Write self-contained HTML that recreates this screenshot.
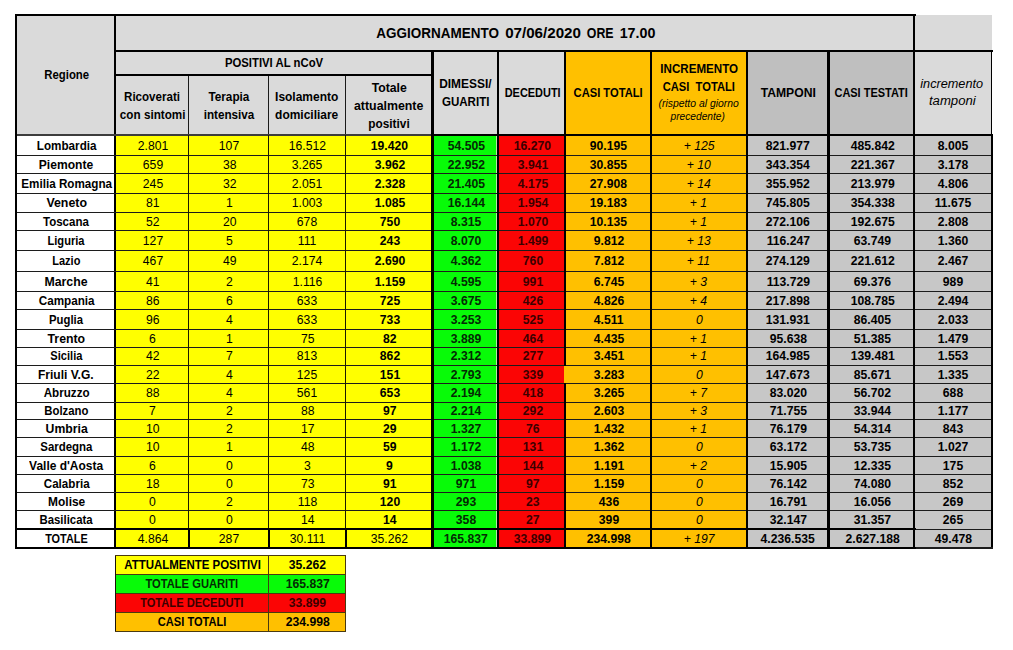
<!DOCTYPE html>
<html><head><meta charset='utf-8'><title>Aggiornamento 07/06/2020</title>
<style>
html,body{margin:0;padding:0;background:#fff;}
body{width:1013px;height:650px;position:relative;overflow:hidden;font-family:"Liberation Sans", sans-serif;}
.r,.l,.t{position:absolute;}
.t{white-space:nowrap;line-height:1;transform-origin:50% 50%;}
</style></head><body>
<div class='r' style='left:15px;top:14px;width:900.00px;height:121.00px;background:#dadada'></div>
<div class='r' style='left:915px;top:15px;width:77.40px;height:120.00px;background:#dadada'></div>
<div class='r' style='left:747px;top:51px;width:167.00px;height:84.00px;background:#bfbfbf'></div>
<div class='r' style='left:565px;top:51px;width:182.00px;height:84.00px;background:#ffc000'></div>
<div class='r' style='left:15px;top:135px;width:100.00px;height:413.60px;background:#ffffff'></div>
<div class='r' style='left:115px;top:135px;width:317.00px;height:413.60px;background:#ffff00'></div>
<div class='r' style='left:432px;top:135px;width:64.20px;height:413.60px;background:#08fb08'></div>
<div class='r' style='left:496.2px;top:135px;width:1.80px;height:413.60px;background:#b4eaa8'></div>
<div class='r' style='left:498px;top:135px;width:67.00px;height:413.60px;background:#fb0505'></div>
<div class='r' style='left:565px;top:135px;width:182.00px;height:413.60px;background:#ffc000'></div>
<div class='r' style='left:747px;top:135px;width:245.60px;height:413.60px;background:#c7c7c7'></div>
<div class='r' style='left:115.3px;top:555.9px;width:230.30px;height:18.30px;background:#ffff00'></div>
<div class='r' style='left:115.3px;top:574.2px;width:230.30px;height:19.50px;background:#08fb08'></div>
<div class='r' style='left:115.3px;top:593.7px;width:230.30px;height:18.80px;background:#fb0505'></div>
<div class='r' style='left:115.3px;top:612.5px;width:230.30px;height:18.70px;background:#ffc000'></div>
<div class='l' style='left:15px;top:14px;width:900.60px;height:2.10px;background:#000'></div>
<div class='l' style='left:15px;top:14px;width:2.10px;height:534.70px;background:#000'></div>
<div class='l' style='left:114px;top:14px;width:2.20px;height:534.70px;background:#000'></div>
<div class='l' style='left:116px;top:49.8px;width:876.60px;height:2.20px;background:#000'></div>
<div class='l' style='left:116px;top:73.8px;width:316.00px;height:2.20px;background:#000'></div>
<div class='l' style='left:188.0px;top:76px;width:1.40px;height:59.00px;background:#1a1a1a'></div>
<div class='l' style='left:267.70000000000005px;top:76px;width:1.40px;height:59.00px;background:#1a1a1a'></div>
<div class='l' style='left:345.0px;top:76px;width:1.40px;height:59.00px;background:#1a1a1a'></div>
<div class='l' style='left:17px;top:154.9px;width:975.00px;height:1.00px;background:#1c1c1c'></div>
<div class='l' style='left:17px;top:172.8px;width:975.00px;height:1.00px;background:#1c1c1c'></div>
<div class='l' style='left:17px;top:192.8px;width:975.00px;height:1.00px;background:#1c1c1c'></div>
<div class='l' style='left:17px;top:212.3px;width:975.00px;height:1.00px;background:#1c1c1c'></div>
<div class='l' style='left:17px;top:229.8px;width:975.00px;height:1.00px;background:#1c1c1c'></div>
<div class='l' style='left:17px;top:249.9px;width:975.00px;height:1.00px;background:#1c1c1c'></div>
<div class='l' style='left:17px;top:270.7px;width:975.00px;height:1.00px;background:#1c1c1c'></div>
<div class='l' style='left:17px;top:291.0px;width:975.00px;height:1.00px;background:#1c1c1c'></div>
<div class='l' style='left:17px;top:309.1px;width:975.00px;height:1.00px;background:#1c1c1c'></div>
<div class='l' style='left:17px;top:328.9px;width:975.00px;height:1.00px;background:#1c1c1c'></div>
<div class='l' style='left:17px;top:346.8px;width:975.00px;height:1.00px;background:#1c1c1c'></div>
<div class='l' style='left:17px;top:364.5px;width:975.00px;height:1.00px;background:#1c1c1c'></div>
<div class='l' style='left:17px;top:383.4px;width:975.00px;height:1.00px;background:#1c1c1c'></div>
<div class='l' style='left:17px;top:401.6px;width:975.00px;height:1.00px;background:#1c1c1c'></div>
<div class='l' style='left:17px;top:419.3px;width:975.00px;height:1.00px;background:#1c1c1c'></div>
<div class='l' style='left:17px;top:437.0px;width:975.00px;height:1.00px;background:#1c1c1c'></div>
<div class='l' style='left:17px;top:455.8px;width:975.00px;height:1.00px;background:#1c1c1c'></div>
<div class='l' style='left:17px;top:474.0px;width:975.00px;height:1.00px;background:#1c1c1c'></div>
<div class='l' style='left:17px;top:492.0px;width:975.00px;height:1.00px;background:#1c1c1c'></div>
<div class='l' style='left:17px;top:509.9px;width:975.00px;height:1.00px;background:#1c1c1c'></div>
<div class='l' style='left:17px;top:134.0px;width:415.00px;height:1.50px;background:#3c3c3c'></div>
<div class='l' style='left:431.3px;top:133.5px;width:561.40px;height:2.20px;background:#000'></div>
<div class='l' style='left:188.15px;top:135px;width:1.10px;height:394.00px;background:#1a1a00'></div>
<div class='l' style='left:188.05px;top:528.5px;width:2.00px;height:20.00px;background:#000'></div>
<div class='l' style='left:267.85px;top:135px;width:1.10px;height:394.00px;background:#1a1a00'></div>
<div class='l' style='left:267.75px;top:528.5px;width:2.00px;height:20.00px;background:#000'></div>
<div class='l' style='left:345.15px;top:135px;width:1.10px;height:394.00px;background:#1a1a00'></div>
<div class='l' style='left:345.04999999999995px;top:528.5px;width:2.00px;height:20.00px;background:#000'></div>
<div class='l' style='left:431.3px;top:50px;width:2.40px;height:498.70px;background:#000'></div>
<div class='l' style='left:496.9px;top:50px;width:2.00px;height:498.70px;background:#000'></div>
<div class='l' style='left:563.7px;top:50px;width:2.20px;height:498.70px;background:#000'></div>
<div class='l' style='left:649.9px;top:50px;width:2.40px;height:498.70px;background:#000'></div>
<div class='l' style='left:745.6px;top:50px;width:2.00px;height:498.70px;background:#000'></div>
<div class='l' style='left:827.4px;top:50px;width:2.30px;height:498.70px;background:#000'></div>
<div class='l' style='left:913.3px;top:14px;width:2.20px;height:534.70px;background:#000'></div>
<div class='l' style='left:990.9px;top:50px;width:1.60px;height:85.00px;background:#000'></div>
<div class='l' style='left:990.5px;top:134px;width:2.20px;height:414.70px;background:#000'></div>
<div class='l' style='left:563.9px;top:365.6px;width:2.40px;height:17.70px;background:#ffc000'></div>
<div class='l' style='left:15px;top:528.2px;width:900.60px;height:2.00px;background:#000'></div>
<div class='l' style='left:915.7px;top:528.7px;width:75.00px;height:1.00px;background:#1c1c1c'></div>
<div class='l' style='left:15px;top:546.5px;width:900.60px;height:2.20px;background:#000'></div>
<div class='l' style='left:915.5px;top:547.4px;width:77.00px;height:1.20px;background:#1c1c1c'></div>
<div class='l' style='left:114.8px;top:555.35px;width:231.40px;height:1.10px;background:#4a3a10'></div>
<div class='l' style='left:114.8px;top:573.6500000000001px;width:231.40px;height:1.10px;background:#4a3a10'></div>
<div class='l' style='left:114.8px;top:593.1500000000001px;width:231.40px;height:1.10px;background:#4a3a10'></div>
<div class='l' style='left:114.8px;top:611.95px;width:231.40px;height:1.10px;background:#4a3a10'></div>
<div class='l' style='left:114.8px;top:630.6500000000001px;width:231.40px;height:1.10px;background:#4a3a10'></div>
<div class='l' style='left:115.0px;top:555.9px;width:1.10px;height:75.30px;background:#1a1408'></div>
<div class='l' style='left:345.1px;top:555.9px;width:1.10px;height:75.30px;background:#4a3a10'></div>
<div class='l' style='left:267.95px;top:555.9px;width:1.10px;height:75.30px;background:#4a3a10'></div>
<span class='t' style='left:374.04px;top:26.00px;font-size:14px;font-weight:700;font-style:normal;color:#000000;transform:scaleX(0.9630);'>AGGIORNAMENTO</span>
<span class='t' style='left:508.16px;top:26.00px;font-size:14px;font-weight:700;font-style:normal;color:#000000;transform:scaleX(1.0816);'>07/06/2020</span>
<span class='t' style='left:585.03px;top:26.00px;font-size:14px;font-weight:700;font-style:normal;color:#000000;transform:scaleX(0.8832);'>ORE</span>
<span class='t' style='left:619.88px;top:26.00px;font-size:14px;font-weight:700;font-style:normal;color:#000000;transform:scaleX(1.0186);'>17.00</span>
<span class='t' style='left:42.63px;top:69.00px;font-size:12px;font-weight:700;font-style:normal;color:#000000;transform:scaleX(0.9463);'>Regione</span>
<span class='t' style='left:222.49px;top:57.00px;font-size:12px;font-weight:700;font-style:normal;color:#000000;transform:scaleX(0.9441);'>POSITIVI AL nCoV</span>
<span class='t' style='left:123.28px;top:91.00px;font-size:12px;font-weight:700;font-style:normal;color:#000000;transform:scaleX(0.9650);'>Ricoverati</span>
<span class='t' style='left:118.63px;top:109.00px;font-size:12px;font-weight:700;font-style:normal;color:#000000;transform:scaleX(0.9741);'>con sintomi</span>
<span class='t' style='left:208.30px;top:91.00px;font-size:12px;font-weight:700;font-style:normal;color:#000000;transform:scaleX(0.9809);'>Terapia</span>
<span class='t' style='left:202.98px;top:109.00px;font-size:12px;font-weight:700;font-style:normal;color:#000000;transform:scaleX(0.9744);'>intensiva</span>
<span class='t' style='left:275.02px;top:91.00px;font-size:12px;font-weight:700;font-style:normal;color:#000000;transform:scaleX(0.9975);'>Isolamento</span>
<span class='t' style='left:275.02px;top:109.00px;font-size:12px;font-weight:700;font-style:normal;color:#000000;transform:scaleX(0.9975);'>domiciliare</span>
<span class='t' style='left:371.97px;top:82.00px;font-size:12px;font-weight:700;font-style:normal;color:#000000;transform:scaleX(1.0188);'>Totale</span>
<span class='t' style='left:355.12px;top:100.00px;font-size:12px;font-weight:700;font-style:normal;color:#000000;transform:scaleX(1.0303);'>attualmente</span>
<span class='t' style='left:368.09px;top:118.00px;font-size:12px;font-weight:700;font-style:normal;color:#000000;transform:scaleX(0.9853);'>positivi</span>
<span class='t' style='left:439.46px;top:78.00px;font-size:12px;font-weight:700;font-style:normal;color:#000000;transform:scaleX(0.9945);'>DIMESSI/</span>
<span class='t' style='left:441.13px;top:96.00px;font-size:12px;font-weight:700;font-style:normal;color:#000000;transform:scaleX(0.9626);'>GUARITI</span>
<span class='t' style='left:501.83px;top:87.00px;font-size:12px;font-weight:700;font-style:normal;color:#000000;transform:scaleX(0.9113);'>DECEDUTI</span>
<span class='t' style='left:571.08px;top:87.00px;font-size:12px;font-weight:700;font-style:normal;color:#000000;transform:scaleX(0.9295);'>CASI TOTALI</span>
<span class='t' style='left:659.27px;top:63.00px;font-size:12px;font-weight:700;font-style:normal;color:#000000;transform:scaleX(0.9670);'>INCREMENTO</span>
<span class='t' style='left:660.42px;top:81.00px;font-size:12px;font-weight:700;font-style:normal;color:#000000;transform:scaleX(0.9309);'>CASI &nbsp;TOTALI</span>
<span class='t' style='left:659.67px;top:99.00px;font-size:10px;font-weight:400;font-style:italic;color:#000000;transform:scaleX(1.0393);'>(rispetto al giorno</span>
<span class='t' style='left:671.41px;top:112.00px;font-size:10px;font-weight:400;font-style:italic;color:#000000;transform:scaleX(1.0192);'>precedente)</span>
<span class='t' style='left:760.77px;top:87.00px;font-size:12px;font-weight:700;font-style:normal;color:#000000;transform:scaleX(1.0137);'>TAMPONI</span>
<span class='t' style='left:831.28px;top:87.00px;font-size:12px;font-weight:700;font-style:normal;color:#000000;transform:scaleX(0.9136);'>CASI TESTATI</span>
<span class='t' style='left:922.41px;top:78.00px;font-size:12px;font-weight:400;font-style:italic;color:#000000;transform:scaleX(1.0577);'>incremento</span>
<span class='t' style='left:930.85px;top:95.00px;font-size:12px;font-weight:400;font-style:italic;color:#000000;transform:scaleX(1.0959);'>tamponi</span>
<span class='t' style='left:35.53px;top:140.00px;font-size:12px;font-weight:700;font-style:normal;color:#000000;transform:scaleX(0.9732);'>Lombardia</span>
<span class='t' style='left:137.78px;top:140.00px;font-size:12px;font-weight:400;font-style:normal;color:#000000;transform:scaleX(1.0150);'>2.801</span>
<span class='t' style='left:219.38px;top:140.00px;font-size:12px;font-weight:400;font-style:normal;color:#000000;transform:scaleX(1.0150);'>107</span>
<span class='t' style='left:288.85px;top:140.00px;font-size:12px;font-weight:400;font-style:normal;color:#000000;transform:scaleX(1.0150);'>16.512</span>
<span class='t' style='left:371.35px;top:140.00px;font-size:12px;font-weight:700;font-style:normal;color:#000000;transform:scaleX(1.0150);'>19.420</span>
<span class='t' style='left:447.65px;top:140.00px;font-size:12px;font-weight:700;font-style:normal;color:#042a04;transform:scaleX(1.0150);'>54.505</span>
<span class='t' style='left:514.25px;top:140.00px;font-size:12px;font-weight:700;font-style:normal;color:#3c0000;transform:scaleX(1.0150);'>16.270</span>
<span class='t' style='left:590.35px;top:140.00px;font-size:12px;font-weight:700;font-style:normal;color:#000000;transform:scaleX(1.0150);'>90.195</span>
<span class='t' style='left:683.71px;top:140.00px;font-size:12px;font-weight:400;font-style:italic;color:#000000;transform:scaleX(1.0150);'>+ 125</span>
<span class='t' style='left:766.40px;top:140.00px;font-size:12px;font-weight:700;font-style:normal;color:#000000;transform:scaleX(1.0150);'>821.977</span>
<span class='t' style='left:850.50px;top:140.00px;font-size:12px;font-weight:700;font-style:normal;color:#000000;transform:scaleX(1.0150);'>485.842</span>
<span class='t' style='left:938.28px;top:140.00px;font-size:12px;font-weight:700;font-style:normal;color:#000000;transform:scaleX(1.0150);'>8.005</span>
<span class='t' style='left:39.19px;top:159.00px;font-size:12px;font-weight:700;font-style:normal;color:#000000;transform:scaleX(1.0071);'>Piemonte</span>
<span class='t' style='left:142.78px;top:159.00px;font-size:12px;font-weight:400;font-style:normal;color:#000000;transform:scaleX(1.0150);'>659</span>
<span class='t' style='left:222.72px;top:159.00px;font-size:12px;font-weight:400;font-style:normal;color:#000000;transform:scaleX(1.0150);'>38</span>
<span class='t' style='left:292.18px;top:159.00px;font-size:12px;font-weight:400;font-style:normal;color:#000000;transform:scaleX(1.0150);'>3.265</span>
<span class='t' style='left:374.68px;top:159.00px;font-size:12px;font-weight:700;font-style:normal;color:#000000;transform:scaleX(1.0150);'>3.962</span>
<span class='t' style='left:447.65px;top:159.00px;font-size:12px;font-weight:700;font-style:normal;color:#042a04;transform:scaleX(1.0150);'>22.952</span>
<span class='t' style='left:517.58px;top:159.00px;font-size:12px;font-weight:700;font-style:normal;color:#3c0000;transform:scaleX(1.0150);'>3.941</span>
<span class='t' style='left:590.35px;top:159.00px;font-size:12px;font-weight:700;font-style:normal;color:#000000;transform:scaleX(1.0150);'>30.855</span>
<span class='t' style='left:687.05px;top:159.00px;font-size:12px;font-weight:400;font-style:italic;color:#000000;transform:scaleX(1.0150);'>+ 10</span>
<span class='t' style='left:766.40px;top:159.00px;font-size:12px;font-weight:700;font-style:normal;color:#000000;transform:scaleX(1.0150);'>343.354</span>
<span class='t' style='left:850.50px;top:159.00px;font-size:12px;font-weight:700;font-style:normal;color:#000000;transform:scaleX(1.0150);'>221.367</span>
<span class='t' style='left:938.28px;top:159.00px;font-size:12px;font-weight:700;font-style:normal;color:#000000;transform:scaleX(1.0150);'>3.178</span>
<span class='t' style='left:19.52px;top:178.00px;font-size:12px;font-weight:700;font-style:normal;color:#000000;transform:scaleX(0.9726);'>Emilia Romagna</span>
<span class='t' style='left:142.78px;top:178.00px;font-size:12px;font-weight:400;font-style:normal;color:#000000;transform:scaleX(1.0150);'>245</span>
<span class='t' style='left:222.72px;top:178.00px;font-size:12px;font-weight:400;font-style:normal;color:#000000;transform:scaleX(1.0150);'>32</span>
<span class='t' style='left:292.18px;top:178.00px;font-size:12px;font-weight:400;font-style:normal;color:#000000;transform:scaleX(1.0150);'>2.051</span>
<span class='t' style='left:374.68px;top:178.00px;font-size:12px;font-weight:700;font-style:normal;color:#000000;transform:scaleX(1.0150);'>2.328</span>
<span class='t' style='left:447.65px;top:178.00px;font-size:12px;font-weight:700;font-style:normal;color:#042a04;transform:scaleX(1.0150);'>21.405</span>
<span class='t' style='left:517.58px;top:178.00px;font-size:12px;font-weight:700;font-style:normal;color:#3c0000;transform:scaleX(1.0150);'>4.175</span>
<span class='t' style='left:590.35px;top:178.00px;font-size:12px;font-weight:700;font-style:normal;color:#000000;transform:scaleX(1.0150);'>27.908</span>
<span class='t' style='left:687.05px;top:178.00px;font-size:12px;font-weight:400;font-style:italic;color:#000000;transform:scaleX(1.0150);'>+ 14</span>
<span class='t' style='left:766.40px;top:178.00px;font-size:12px;font-weight:700;font-style:normal;color:#000000;transform:scaleX(1.0150);'>355.952</span>
<span class='t' style='left:850.50px;top:178.00px;font-size:12px;font-weight:700;font-style:normal;color:#000000;transform:scaleX(1.0150);'>213.979</span>
<span class='t' style='left:938.28px;top:178.00px;font-size:12px;font-weight:700;font-style:normal;color:#000000;transform:scaleX(1.0150);'>4.806</span>
<span class='t' style='left:46.52px;top:197.00px;font-size:12px;font-weight:700;font-style:normal;color:#000000;transform:scaleX(1.0315);'>Veneto</span>
<span class='t' style='left:146.12px;top:197.00px;font-size:12px;font-weight:400;font-style:normal;color:#000000;transform:scaleX(1.0150);'>81</span>
<span class='t' style='left:226.06px;top:197.00px;font-size:12px;font-weight:400;font-style:normal;color:#000000;transform:scaleX(1.0150);'>1</span>
<span class='t' style='left:292.18px;top:197.00px;font-size:12px;font-weight:400;font-style:normal;color:#000000;transform:scaleX(1.0150);'>1.003</span>
<span class='t' style='left:374.68px;top:197.00px;font-size:12px;font-weight:700;font-style:normal;color:#000000;transform:scaleX(1.0150);'>1.085</span>
<span class='t' style='left:447.65px;top:197.00px;font-size:12px;font-weight:700;font-style:normal;color:#042a04;transform:scaleX(1.0150);'>16.144</span>
<span class='t' style='left:517.58px;top:197.00px;font-size:12px;font-weight:700;font-style:normal;color:#3c0000;transform:scaleX(1.0150);'>1.954</span>
<span class='t' style='left:590.35px;top:197.00px;font-size:12px;font-weight:700;font-style:normal;color:#000000;transform:scaleX(1.0150);'>19.183</span>
<span class='t' style='left:690.39px;top:197.00px;font-size:12px;font-weight:400;font-style:italic;color:#000000;transform:scaleX(1.0150);'>+ 1</span>
<span class='t' style='left:766.40px;top:197.00px;font-size:12px;font-weight:700;font-style:normal;color:#000000;transform:scaleX(1.0150);'>745.805</span>
<span class='t' style='left:850.50px;top:197.00px;font-size:12px;font-weight:700;font-style:normal;color:#000000;transform:scaleX(1.0150);'>354.338</span>
<span class='t' style='left:935.28px;top:197.00px;font-size:12px;font-weight:700;font-style:normal;color:#000000;transform:scaleX(1.0150);'>11.675</span>
<span class='t' style='left:42.30px;top:216.00px;font-size:12px;font-weight:700;font-style:normal;color:#000000;transform:scaleX(0.9603);'>Toscana</span>
<span class='t' style='left:146.12px;top:216.00px;font-size:12px;font-weight:400;font-style:normal;color:#000000;transform:scaleX(1.0150);'>52</span>
<span class='t' style='left:222.72px;top:216.00px;font-size:12px;font-weight:400;font-style:normal;color:#000000;transform:scaleX(1.0150);'>20</span>
<span class='t' style='left:297.18px;top:216.00px;font-size:12px;font-weight:400;font-style:normal;color:#000000;transform:scaleX(1.0150);'>678</span>
<span class='t' style='left:379.68px;top:216.00px;font-size:12px;font-weight:700;font-style:normal;color:#000000;transform:scaleX(1.0150);'>750</span>
<span class='t' style='left:450.98px;top:216.00px;font-size:12px;font-weight:700;font-style:normal;color:#042a04;transform:scaleX(1.0150);'>8.315</span>
<span class='t' style='left:517.58px;top:216.00px;font-size:12px;font-weight:700;font-style:normal;color:#3c0000;transform:scaleX(1.0150);'>1.070</span>
<span class='t' style='left:590.35px;top:216.00px;font-size:12px;font-weight:700;font-style:normal;color:#000000;transform:scaleX(1.0150);'>10.135</span>
<span class='t' style='left:690.39px;top:216.00px;font-size:12px;font-weight:400;font-style:italic;color:#000000;transform:scaleX(1.0150);'>+ 1</span>
<span class='t' style='left:766.40px;top:216.00px;font-size:12px;font-weight:700;font-style:normal;color:#000000;transform:scaleX(1.0150);'>272.106</span>
<span class='t' style='left:850.50px;top:216.00px;font-size:12px;font-weight:700;font-style:normal;color:#000000;transform:scaleX(1.0150);'>192.675</span>
<span class='t' style='left:938.28px;top:216.00px;font-size:12px;font-weight:700;font-style:normal;color:#000000;transform:scaleX(1.0150);'>2.808</span>
<span class='t' style='left:46.19px;top:235.00px;font-size:12px;font-weight:700;font-style:normal;color:#000000;transform:scaleX(0.9271);'>Liguria</span>
<span class='t' style='left:142.78px;top:235.00px;font-size:12px;font-weight:400;font-style:normal;color:#000000;transform:scaleX(1.0150);'>127</span>
<span class='t' style='left:226.06px;top:235.00px;font-size:12px;font-weight:400;font-style:normal;color:#000000;transform:scaleX(1.0150);'>5</span>
<span class='t' style='left:298.07px;top:235.00px;font-size:12px;font-weight:400;font-style:normal;color:#000000;transform:scaleX(1.0150);'>111</span>
<span class='t' style='left:379.68px;top:235.00px;font-size:12px;font-weight:700;font-style:normal;color:#000000;transform:scaleX(1.0150);'>243</span>
<span class='t' style='left:450.98px;top:235.00px;font-size:12px;font-weight:700;font-style:normal;color:#042a04;transform:scaleX(1.0150);'>8.070</span>
<span class='t' style='left:517.58px;top:235.00px;font-size:12px;font-weight:700;font-style:normal;color:#3c0000;transform:scaleX(1.0150);'>1.499</span>
<span class='t' style='left:593.68px;top:235.00px;font-size:12px;font-weight:700;font-style:normal;color:#000000;transform:scaleX(1.0150);'>9.812</span>
<span class='t' style='left:687.05px;top:235.00px;font-size:12px;font-weight:400;font-style:italic;color:#000000;transform:scaleX(1.0150);'>+ 13</span>
<span class='t' style='left:766.74px;top:235.00px;font-size:12px;font-weight:700;font-style:normal;color:#000000;transform:scaleX(1.0150);'>116.247</span>
<span class='t' style='left:853.85px;top:235.00px;font-size:12px;font-weight:700;font-style:normal;color:#000000;transform:scaleX(1.0150);'>63.749</span>
<span class='t' style='left:938.28px;top:235.00px;font-size:12px;font-weight:700;font-style:normal;color:#000000;transform:scaleX(1.0150);'>1.360</span>
<span class='t' style='left:50.86px;top:255.00px;font-size:12px;font-weight:700;font-style:normal;color:#000000;transform:scaleX(0.9161);'>Lazio</span>
<span class='t' style='left:142.78px;top:255.00px;font-size:12px;font-weight:400;font-style:normal;color:#000000;transform:scaleX(1.0150);'>467</span>
<span class='t' style='left:222.72px;top:255.00px;font-size:12px;font-weight:400;font-style:normal;color:#000000;transform:scaleX(1.0150);'>49</span>
<span class='t' style='left:292.18px;top:255.00px;font-size:12px;font-weight:400;font-style:normal;color:#000000;transform:scaleX(1.0150);'>2.174</span>
<span class='t' style='left:374.68px;top:255.00px;font-size:12px;font-weight:700;font-style:normal;color:#000000;transform:scaleX(1.0150);'>2.690</span>
<span class='t' style='left:450.98px;top:255.00px;font-size:12px;font-weight:700;font-style:normal;color:#042a04;transform:scaleX(1.0150);'>4.362</span>
<span class='t' style='left:522.58px;top:255.00px;font-size:12px;font-weight:700;font-style:normal;color:#3c0000;transform:scaleX(1.0150);'>760</span>
<span class='t' style='left:593.68px;top:255.00px;font-size:12px;font-weight:700;font-style:normal;color:#000000;transform:scaleX(1.0150);'>7.812</span>
<span class='t' style='left:687.49px;top:255.00px;font-size:12px;font-weight:400;font-style:italic;color:#000000;transform:scaleX(1.0150);'>+ 11</span>
<span class='t' style='left:766.40px;top:255.00px;font-size:12px;font-weight:700;font-style:normal;color:#000000;transform:scaleX(1.0150);'>274.129</span>
<span class='t' style='left:850.50px;top:255.00px;font-size:12px;font-weight:700;font-style:normal;color:#000000;transform:scaleX(1.0150);'>221.612</span>
<span class='t' style='left:938.28px;top:255.00px;font-size:12px;font-weight:700;font-style:normal;color:#000000;transform:scaleX(1.0150);'>2.467</span>
<span class='t' style='left:45.18px;top:276.00px;font-size:12px;font-weight:700;font-style:normal;color:#000000;transform:scaleX(1.0254);'>Marche</span>
<span class='t' style='left:146.12px;top:276.00px;font-size:12px;font-weight:400;font-style:normal;color:#000000;transform:scaleX(1.0150);'>41</span>
<span class='t' style='left:226.06px;top:276.00px;font-size:12px;font-weight:400;font-style:normal;color:#000000;transform:scaleX(1.0150);'>2</span>
<span class='t' style='left:292.63px;top:276.00px;font-size:12px;font-weight:400;font-style:normal;color:#000000;transform:scaleX(1.0150);'>1.116</span>
<span class='t' style='left:374.68px;top:276.00px;font-size:12px;font-weight:700;font-style:normal;color:#000000;transform:scaleX(1.0150);'>1.159</span>
<span class='t' style='left:450.98px;top:276.00px;font-size:12px;font-weight:700;font-style:normal;color:#042a04;transform:scaleX(1.0150);'>4.595</span>
<span class='t' style='left:522.58px;top:276.00px;font-size:12px;font-weight:700;font-style:normal;color:#3c0000;transform:scaleX(1.0150);'>991</span>
<span class='t' style='left:593.68px;top:276.00px;font-size:12px;font-weight:700;font-style:normal;color:#000000;transform:scaleX(1.0150);'>6.745</span>
<span class='t' style='left:690.39px;top:276.00px;font-size:12px;font-weight:400;font-style:italic;color:#000000;transform:scaleX(1.0150);'>+ 3</span>
<span class='t' style='left:766.74px;top:276.00px;font-size:12px;font-weight:700;font-style:normal;color:#000000;transform:scaleX(1.0150);'>113.729</span>
<span class='t' style='left:853.85px;top:276.00px;font-size:12px;font-weight:700;font-style:normal;color:#000000;transform:scaleX(1.0150);'>69.376</span>
<span class='t' style='left:943.28px;top:276.00px;font-size:12px;font-weight:700;font-style:normal;color:#000000;transform:scaleX(1.0150);'>989</span>
<span class='t' style='left:37.52px;top:295.00px;font-size:12px;font-weight:700;font-style:normal;color:#000000;transform:scaleX(0.9746);'>Campania</span>
<span class='t' style='left:146.12px;top:295.00px;font-size:12px;font-weight:400;font-style:normal;color:#000000;transform:scaleX(1.0150);'>86</span>
<span class='t' style='left:226.06px;top:295.00px;font-size:12px;font-weight:400;font-style:normal;color:#000000;transform:scaleX(1.0150);'>6</span>
<span class='t' style='left:297.18px;top:295.00px;font-size:12px;font-weight:400;font-style:normal;color:#000000;transform:scaleX(1.0150);'>633</span>
<span class='t' style='left:379.68px;top:295.00px;font-size:12px;font-weight:700;font-style:normal;color:#000000;transform:scaleX(1.0150);'>725</span>
<span class='t' style='left:450.98px;top:295.00px;font-size:12px;font-weight:700;font-style:normal;color:#042a04;transform:scaleX(1.0150);'>3.675</span>
<span class='t' style='left:522.58px;top:295.00px;font-size:12px;font-weight:700;font-style:normal;color:#3c0000;transform:scaleX(1.0150);'>426</span>
<span class='t' style='left:593.68px;top:295.00px;font-size:12px;font-weight:700;font-style:normal;color:#000000;transform:scaleX(1.0150);'>4.826</span>
<span class='t' style='left:690.39px;top:295.00px;font-size:12px;font-weight:400;font-style:italic;color:#000000;transform:scaleX(1.0150);'>+ 4</span>
<span class='t' style='left:766.40px;top:295.00px;font-size:12px;font-weight:700;font-style:normal;color:#000000;transform:scaleX(1.0150);'>217.898</span>
<span class='t' style='left:850.50px;top:295.00px;font-size:12px;font-weight:700;font-style:normal;color:#000000;transform:scaleX(1.0150);'>108.785</span>
<span class='t' style='left:938.28px;top:295.00px;font-size:12px;font-weight:700;font-style:normal;color:#000000;transform:scaleX(1.0150);'>2.494</span>
<span class='t' style='left:48.19px;top:314.00px;font-size:12px;font-weight:700;font-style:normal;color:#000000;transform:scaleX(0.9413);'>Puglia</span>
<span class='t' style='left:146.12px;top:314.00px;font-size:12px;font-weight:400;font-style:normal;color:#000000;transform:scaleX(1.0150);'>96</span>
<span class='t' style='left:226.06px;top:314.00px;font-size:12px;font-weight:400;font-style:normal;color:#000000;transform:scaleX(1.0150);'>4</span>
<span class='t' style='left:297.18px;top:314.00px;font-size:12px;font-weight:400;font-style:normal;color:#000000;transform:scaleX(1.0150);'>633</span>
<span class='t' style='left:379.68px;top:314.00px;font-size:12px;font-weight:700;font-style:normal;color:#000000;transform:scaleX(1.0150);'>733</span>
<span class='t' style='left:450.98px;top:314.00px;font-size:12px;font-weight:700;font-style:normal;color:#042a04;transform:scaleX(1.0150);'>3.253</span>
<span class='t' style='left:522.58px;top:314.00px;font-size:12px;font-weight:700;font-style:normal;color:#3c0000;transform:scaleX(1.0150);'>525</span>
<span class='t' style='left:594.01px;top:314.00px;font-size:12px;font-weight:700;font-style:normal;color:#000000;transform:scaleX(1.0150);'>4.511</span>
<span class='t' style='left:695.56px;top:314.00px;font-size:12px;font-weight:400;font-style:italic;color:#000000;transform:scaleX(1.0150);'>0</span>
<span class='t' style='left:766.40px;top:314.00px;font-size:12px;font-weight:700;font-style:normal;color:#000000;transform:scaleX(1.0150);'>131.931</span>
<span class='t' style='left:853.85px;top:314.00px;font-size:12px;font-weight:700;font-style:normal;color:#000000;transform:scaleX(1.0150);'>86.405</span>
<span class='t' style='left:938.28px;top:314.00px;font-size:12px;font-weight:700;font-style:normal;color:#000000;transform:scaleX(1.0150);'>2.033</span>
<span class='t' style='left:47.86px;top:333.00px;font-size:12px;font-weight:700;font-style:normal;color:#000000;transform:scaleX(1.0253);'>Trento</span>
<span class='t' style='left:149.46px;top:333.00px;font-size:12px;font-weight:400;font-style:normal;color:#000000;transform:scaleX(1.0150);'>6</span>
<span class='t' style='left:226.06px;top:333.00px;font-size:12px;font-weight:400;font-style:normal;color:#000000;transform:scaleX(1.0150);'>1</span>
<span class='t' style='left:300.52px;top:333.00px;font-size:12px;font-weight:400;font-style:normal;color:#000000;transform:scaleX(1.0150);'>75</span>
<span class='t' style='left:383.02px;top:333.00px;font-size:12px;font-weight:700;font-style:normal;color:#000000;transform:scaleX(1.0150);'>82</span>
<span class='t' style='left:450.98px;top:333.00px;font-size:12px;font-weight:700;font-style:normal;color:#042a04;transform:scaleX(1.0150);'>3.889</span>
<span class='t' style='left:522.58px;top:333.00px;font-size:12px;font-weight:700;font-style:normal;color:#3c0000;transform:scaleX(1.0150);'>464</span>
<span class='t' style='left:593.68px;top:333.00px;font-size:12px;font-weight:700;font-style:normal;color:#000000;transform:scaleX(1.0150);'>4.435</span>
<span class='t' style='left:690.39px;top:333.00px;font-size:12px;font-weight:400;font-style:italic;color:#000000;transform:scaleX(1.0150);'>+ 1</span>
<span class='t' style='left:769.75px;top:333.00px;font-size:12px;font-weight:700;font-style:normal;color:#000000;transform:scaleX(1.0150);'>95.638</span>
<span class='t' style='left:853.85px;top:333.00px;font-size:12px;font-weight:700;font-style:normal;color:#000000;transform:scaleX(1.0150);'>51.385</span>
<span class='t' style='left:938.28px;top:333.00px;font-size:12px;font-weight:700;font-style:normal;color:#000000;transform:scaleX(1.0150);'>1.479</span>
<span class='t' style='left:48.86px;top:350.00px;font-size:12px;font-weight:700;font-style:normal;color:#000000;transform:scaleX(0.9254);'>Sicilia</span>
<span class='t' style='left:146.12px;top:350.00px;font-size:12px;font-weight:400;font-style:normal;color:#000000;transform:scaleX(1.0150);'>42</span>
<span class='t' style='left:226.06px;top:350.00px;font-size:12px;font-weight:400;font-style:normal;color:#000000;transform:scaleX(1.0150);'>7</span>
<span class='t' style='left:297.18px;top:350.00px;font-size:12px;font-weight:400;font-style:normal;color:#000000;transform:scaleX(1.0150);'>813</span>
<span class='t' style='left:379.68px;top:350.00px;font-size:12px;font-weight:700;font-style:normal;color:#000000;transform:scaleX(1.0150);'>862</span>
<span class='t' style='left:450.98px;top:350.00px;font-size:12px;font-weight:700;font-style:normal;color:#042a04;transform:scaleX(1.0150);'>2.312</span>
<span class='t' style='left:522.58px;top:350.00px;font-size:12px;font-weight:700;font-style:normal;color:#3c0000;transform:scaleX(1.0150);'>277</span>
<span class='t' style='left:593.68px;top:350.00px;font-size:12px;font-weight:700;font-style:normal;color:#000000;transform:scaleX(1.0150);'>3.451</span>
<span class='t' style='left:690.39px;top:350.00px;font-size:12px;font-weight:400;font-style:italic;color:#000000;transform:scaleX(1.0150);'>+ 1</span>
<span class='t' style='left:766.40px;top:350.00px;font-size:12px;font-weight:700;font-style:normal;color:#000000;transform:scaleX(1.0150);'>164.985</span>
<span class='t' style='left:850.50px;top:350.00px;font-size:12px;font-weight:700;font-style:normal;color:#000000;transform:scaleX(1.0150);'>139.481</span>
<span class='t' style='left:938.28px;top:350.00px;font-size:12px;font-weight:700;font-style:normal;color:#000000;transform:scaleX(1.0150);'>1.553</span>
<span class='t' style='left:38.41px;top:369.00px;font-size:12px;font-weight:700;font-style:normal;color:#000000;transform:scaleX(1.0022);'>Friuli V.G.</span>
<span class='t' style='left:146.12px;top:369.00px;font-size:12px;font-weight:400;font-style:normal;color:#000000;transform:scaleX(1.0150);'>22</span>
<span class='t' style='left:226.06px;top:369.00px;font-size:12px;font-weight:400;font-style:normal;color:#000000;transform:scaleX(1.0150);'>4</span>
<span class='t' style='left:297.18px;top:369.00px;font-size:12px;font-weight:400;font-style:normal;color:#000000;transform:scaleX(1.0150);'>125</span>
<span class='t' style='left:379.68px;top:369.00px;font-size:12px;font-weight:700;font-style:normal;color:#000000;transform:scaleX(1.0150);'>151</span>
<span class='t' style='left:450.98px;top:369.00px;font-size:12px;font-weight:700;font-style:normal;color:#042a04;transform:scaleX(1.0150);'>2.793</span>
<span class='t' style='left:522.58px;top:369.00px;font-size:12px;font-weight:700;font-style:normal;color:#3c0000;transform:scaleX(1.0150);'>339</span>
<span class='t' style='left:593.68px;top:369.00px;font-size:12px;font-weight:700;font-style:normal;color:#000000;transform:scaleX(1.0150);'>3.283</span>
<span class='t' style='left:695.56px;top:369.00px;font-size:12px;font-weight:400;font-style:italic;color:#000000;transform:scaleX(1.0150);'>0</span>
<span class='t' style='left:766.40px;top:369.00px;font-size:12px;font-weight:700;font-style:normal;color:#000000;transform:scaleX(1.0150);'>147.673</span>
<span class='t' style='left:853.85px;top:369.00px;font-size:12px;font-weight:700;font-style:normal;color:#000000;transform:scaleX(1.0150);'>85.671</span>
<span class='t' style='left:938.28px;top:369.00px;font-size:12px;font-weight:700;font-style:normal;color:#000000;transform:scaleX(1.0150);'>1.335</span>
<span class='t' style='left:42.54px;top:387.00px;font-size:12px;font-weight:700;font-style:normal;color:#000000;transform:scaleX(0.9698);'>Abruzzo</span>
<span class='t' style='left:146.12px;top:387.00px;font-size:12px;font-weight:400;font-style:normal;color:#000000;transform:scaleX(1.0150);'>88</span>
<span class='t' style='left:226.06px;top:387.00px;font-size:12px;font-weight:400;font-style:normal;color:#000000;transform:scaleX(1.0150);'>4</span>
<span class='t' style='left:297.18px;top:387.00px;font-size:12px;font-weight:400;font-style:normal;color:#000000;transform:scaleX(1.0150);'>561</span>
<span class='t' style='left:379.68px;top:387.00px;font-size:12px;font-weight:700;font-style:normal;color:#000000;transform:scaleX(1.0150);'>653</span>
<span class='t' style='left:450.98px;top:387.00px;font-size:12px;font-weight:700;font-style:normal;color:#042a04;transform:scaleX(1.0150);'>2.194</span>
<span class='t' style='left:522.58px;top:387.00px;font-size:12px;font-weight:700;font-style:normal;color:#3c0000;transform:scaleX(1.0150);'>418</span>
<span class='t' style='left:593.68px;top:387.00px;font-size:12px;font-weight:700;font-style:normal;color:#000000;transform:scaleX(1.0150);'>3.265</span>
<span class='t' style='left:690.39px;top:387.00px;font-size:12px;font-weight:400;font-style:italic;color:#000000;transform:scaleX(1.0150);'>+ 7</span>
<span class='t' style='left:769.75px;top:387.00px;font-size:12px;font-weight:700;font-style:normal;color:#000000;transform:scaleX(1.0150);'>83.020</span>
<span class='t' style='left:853.85px;top:387.00px;font-size:12px;font-weight:700;font-style:normal;color:#000000;transform:scaleX(1.0150);'>56.702</span>
<span class='t' style='left:943.28px;top:387.00px;font-size:12px;font-weight:700;font-style:normal;color:#000000;transform:scaleX(1.0150);'>688</span>
<span class='t' style='left:42.86px;top:405.00px;font-size:12px;font-weight:700;font-style:normal;color:#000000;transform:scaleX(0.9449);'>Bolzano</span>
<span class='t' style='left:149.46px;top:405.00px;font-size:12px;font-weight:400;font-style:normal;color:#000000;transform:scaleX(1.0150);'>7</span>
<span class='t' style='left:226.06px;top:405.00px;font-size:12px;font-weight:400;font-style:normal;color:#000000;transform:scaleX(1.0150);'>2</span>
<span class='t' style='left:300.52px;top:405.00px;font-size:12px;font-weight:400;font-style:normal;color:#000000;transform:scaleX(1.0150);'>88</span>
<span class='t' style='left:383.02px;top:405.00px;font-size:12px;font-weight:700;font-style:normal;color:#000000;transform:scaleX(1.0150);'>97</span>
<span class='t' style='left:450.98px;top:405.00px;font-size:12px;font-weight:700;font-style:normal;color:#042a04;transform:scaleX(1.0150);'>2.214</span>
<span class='t' style='left:522.58px;top:405.00px;font-size:12px;font-weight:700;font-style:normal;color:#3c0000;transform:scaleX(1.0150);'>292</span>
<span class='t' style='left:593.68px;top:405.00px;font-size:12px;font-weight:700;font-style:normal;color:#000000;transform:scaleX(1.0150);'>2.603</span>
<span class='t' style='left:690.39px;top:405.00px;font-size:12px;font-weight:400;font-style:italic;color:#000000;transform:scaleX(1.0150);'>+ 3</span>
<span class='t' style='left:769.75px;top:405.00px;font-size:12px;font-weight:700;font-style:normal;color:#000000;transform:scaleX(1.0150);'>71.755</span>
<span class='t' style='left:853.85px;top:405.00px;font-size:12px;font-weight:700;font-style:normal;color:#000000;transform:scaleX(1.0150);'>33.944</span>
<span class='t' style='left:938.28px;top:405.00px;font-size:12px;font-weight:700;font-style:normal;color:#000000;transform:scaleX(1.0150);'>1.177</span>
<span class='t' style='left:45.53px;top:423.00px;font-size:12px;font-weight:700;font-style:normal;color:#000000;transform:scaleX(1.0183);'>Umbria</span>
<span class='t' style='left:146.12px;top:423.00px;font-size:12px;font-weight:400;font-style:normal;color:#000000;transform:scaleX(1.0150);'>10</span>
<span class='t' style='left:226.06px;top:423.00px;font-size:12px;font-weight:400;font-style:normal;color:#000000;transform:scaleX(1.0150);'>2</span>
<span class='t' style='left:300.52px;top:423.00px;font-size:12px;font-weight:400;font-style:normal;color:#000000;transform:scaleX(1.0150);'>17</span>
<span class='t' style='left:383.02px;top:423.00px;font-size:12px;font-weight:700;font-style:normal;color:#000000;transform:scaleX(1.0150);'>29</span>
<span class='t' style='left:450.98px;top:423.00px;font-size:12px;font-weight:700;font-style:normal;color:#042a04;transform:scaleX(1.0150);'>1.327</span>
<span class='t' style='left:525.92px;top:423.00px;font-size:12px;font-weight:700;font-style:normal;color:#3c0000;transform:scaleX(1.0150);'>76</span>
<span class='t' style='left:593.68px;top:423.00px;font-size:12px;font-weight:700;font-style:normal;color:#000000;transform:scaleX(1.0150);'>1.432</span>
<span class='t' style='left:690.39px;top:423.00px;font-size:12px;font-weight:400;font-style:italic;color:#000000;transform:scaleX(1.0150);'>+ 1</span>
<span class='t' style='left:769.75px;top:423.00px;font-size:12px;font-weight:700;font-style:normal;color:#000000;transform:scaleX(1.0150);'>76.179</span>
<span class='t' style='left:853.85px;top:423.00px;font-size:12px;font-weight:700;font-style:normal;color:#000000;transform:scaleX(1.0150);'>54.314</span>
<span class='t' style='left:943.28px;top:423.00px;font-size:12px;font-weight:700;font-style:normal;color:#000000;transform:scaleX(1.0150);'>843</span>
<span class='t' style='left:38.86px;top:441.00px;font-size:12px;font-weight:700;font-style:normal;color:#000000;transform:scaleX(0.9545);'>Sardegna</span>
<span class='t' style='left:146.12px;top:441.00px;font-size:12px;font-weight:400;font-style:normal;color:#000000;transform:scaleX(1.0150);'>10</span>
<span class='t' style='left:226.06px;top:441.00px;font-size:12px;font-weight:400;font-style:normal;color:#000000;transform:scaleX(1.0150);'>1</span>
<span class='t' style='left:300.52px;top:441.00px;font-size:12px;font-weight:400;font-style:normal;color:#000000;transform:scaleX(1.0150);'>48</span>
<span class='t' style='left:383.02px;top:441.00px;font-size:12px;font-weight:700;font-style:normal;color:#000000;transform:scaleX(1.0150);'>59</span>
<span class='t' style='left:450.98px;top:441.00px;font-size:12px;font-weight:700;font-style:normal;color:#042a04;transform:scaleX(1.0150);'>1.172</span>
<span class='t' style='left:522.58px;top:441.00px;font-size:12px;font-weight:700;font-style:normal;color:#3c0000;transform:scaleX(1.0150);'>131</span>
<span class='t' style='left:593.68px;top:441.00px;font-size:12px;font-weight:700;font-style:normal;color:#000000;transform:scaleX(1.0150);'>1.362</span>
<span class='t' style='left:695.56px;top:441.00px;font-size:12px;font-weight:400;font-style:italic;color:#000000;transform:scaleX(1.0150);'>0</span>
<span class='t' style='left:769.75px;top:441.00px;font-size:12px;font-weight:700;font-style:normal;color:#000000;transform:scaleX(1.0150);'>63.172</span>
<span class='t' style='left:853.85px;top:441.00px;font-size:12px;font-weight:700;font-style:normal;color:#000000;transform:scaleX(1.0150);'>53.735</span>
<span class='t' style='left:938.28px;top:441.00px;font-size:12px;font-weight:700;font-style:normal;color:#000000;transform:scaleX(1.0150);'>1.027</span>
<span class='t' style='left:29.09px;top:460.00px;font-size:12px;font-weight:700;font-style:normal;color:#000000;transform:scaleX(0.9971);'>Valle d'Aosta</span>
<span class='t' style='left:149.46px;top:460.00px;font-size:12px;font-weight:400;font-style:normal;color:#000000;transform:scaleX(1.0150);'>6</span>
<span class='t' style='left:226.06px;top:460.00px;font-size:12px;font-weight:400;font-style:normal;color:#000000;transform:scaleX(1.0150);'>0</span>
<span class='t' style='left:303.86px;top:460.00px;font-size:12px;font-weight:400;font-style:normal;color:#000000;transform:scaleX(1.0150);'>3</span>
<span class='t' style='left:386.36px;top:460.00px;font-size:12px;font-weight:700;font-style:normal;color:#000000;transform:scaleX(1.0150);'>9</span>
<span class='t' style='left:450.98px;top:460.00px;font-size:12px;font-weight:700;font-style:normal;color:#042a04;transform:scaleX(1.0150);'>1.038</span>
<span class='t' style='left:522.58px;top:460.00px;font-size:12px;font-weight:700;font-style:normal;color:#3c0000;transform:scaleX(1.0150);'>144</span>
<span class='t' style='left:593.68px;top:460.00px;font-size:12px;font-weight:700;font-style:normal;color:#000000;transform:scaleX(1.0150);'>1.191</span>
<span class='t' style='left:690.39px;top:460.00px;font-size:12px;font-weight:400;font-style:italic;color:#000000;transform:scaleX(1.0150);'>+ 2</span>
<span class='t' style='left:769.75px;top:460.00px;font-size:12px;font-weight:700;font-style:normal;color:#000000;transform:scaleX(1.0150);'>15.905</span>
<span class='t' style='left:853.85px;top:460.00px;font-size:12px;font-weight:700;font-style:normal;color:#000000;transform:scaleX(1.0150);'>12.335</span>
<span class='t' style='left:943.28px;top:460.00px;font-size:12px;font-weight:700;font-style:normal;color:#000000;transform:scaleX(1.0150);'>175</span>
<span class='t' style='left:42.52px;top:478.00px;font-size:12px;font-weight:700;font-style:normal;color:#000000;transform:scaleX(0.9692);'>Calabria</span>
<span class='t' style='left:146.12px;top:478.00px;font-size:12px;font-weight:400;font-style:normal;color:#000000;transform:scaleX(1.0150);'>18</span>
<span class='t' style='left:226.06px;top:478.00px;font-size:12px;font-weight:400;font-style:normal;color:#000000;transform:scaleX(1.0150);'>0</span>
<span class='t' style='left:300.52px;top:478.00px;font-size:12px;font-weight:400;font-style:normal;color:#000000;transform:scaleX(1.0150);'>73</span>
<span class='t' style='left:383.02px;top:478.00px;font-size:12px;font-weight:700;font-style:normal;color:#000000;transform:scaleX(1.0150);'>91</span>
<span class='t' style='left:455.98px;top:478.00px;font-size:12px;font-weight:700;font-style:normal;color:#042a04;transform:scaleX(1.0150);'>971</span>
<span class='t' style='left:525.92px;top:478.00px;font-size:12px;font-weight:700;font-style:normal;color:#3c0000;transform:scaleX(1.0150);'>97</span>
<span class='t' style='left:593.68px;top:478.00px;font-size:12px;font-weight:700;font-style:normal;color:#000000;transform:scaleX(1.0150);'>1.159</span>
<span class='t' style='left:695.56px;top:478.00px;font-size:12px;font-weight:400;font-style:italic;color:#000000;transform:scaleX(1.0150);'>0</span>
<span class='t' style='left:769.75px;top:478.00px;font-size:12px;font-weight:700;font-style:normal;color:#000000;transform:scaleX(1.0150);'>76.142</span>
<span class='t' style='left:853.85px;top:478.00px;font-size:12px;font-weight:700;font-style:normal;color:#000000;transform:scaleX(1.0150);'>74.080</span>
<span class='t' style='left:943.28px;top:478.00px;font-size:12px;font-weight:700;font-style:normal;color:#000000;transform:scaleX(1.0150);'>852</span>
<span class='t' style='left:47.53px;top:496.00px;font-size:12px;font-weight:700;font-style:normal;color:#000000;transform:scaleX(0.9935);'>Molise</span>
<span class='t' style='left:149.46px;top:496.00px;font-size:12px;font-weight:400;font-style:normal;color:#000000;transform:scaleX(1.0150);'>0</span>
<span class='t' style='left:226.06px;top:496.00px;font-size:12px;font-weight:400;font-style:normal;color:#000000;transform:scaleX(1.0150);'>2</span>
<span class='t' style='left:297.63px;top:496.00px;font-size:12px;font-weight:400;font-style:normal;color:#000000;transform:scaleX(1.0150);'>118</span>
<span class='t' style='left:379.68px;top:496.00px;font-size:12px;font-weight:700;font-style:normal;color:#000000;transform:scaleX(1.0150);'>120</span>
<span class='t' style='left:455.98px;top:496.00px;font-size:12px;font-weight:700;font-style:normal;color:#042a04;transform:scaleX(1.0150);'>293</span>
<span class='t' style='left:525.92px;top:496.00px;font-size:12px;font-weight:700;font-style:normal;color:#3c0000;transform:scaleX(1.0150);'>23</span>
<span class='t' style='left:598.68px;top:496.00px;font-size:12px;font-weight:700;font-style:normal;color:#000000;transform:scaleX(1.0150);'>436</span>
<span class='t' style='left:695.56px;top:496.00px;font-size:12px;font-weight:400;font-style:italic;color:#000000;transform:scaleX(1.0150);'>0</span>
<span class='t' style='left:769.75px;top:496.00px;font-size:12px;font-weight:700;font-style:normal;color:#000000;transform:scaleX(1.0150);'>16.791</span>
<span class='t' style='left:853.85px;top:496.00px;font-size:12px;font-weight:700;font-style:normal;color:#000000;transform:scaleX(1.0150);'>16.056</span>
<span class='t' style='left:943.28px;top:496.00px;font-size:12px;font-weight:700;font-style:normal;color:#000000;transform:scaleX(1.0150);'>269</span>
<span class='t' style='left:38.18px;top:514.00px;font-size:12px;font-weight:700;font-style:normal;color:#000000;transform:scaleX(0.9492);'>Basilicata</span>
<span class='t' style='left:149.46px;top:514.00px;font-size:12px;font-weight:400;font-style:normal;color:#000000;transform:scaleX(1.0150);'>0</span>
<span class='t' style='left:226.06px;top:514.00px;font-size:12px;font-weight:400;font-style:normal;color:#000000;transform:scaleX(1.0150);'>0</span>
<span class='t' style='left:300.52px;top:514.00px;font-size:12px;font-weight:400;font-style:normal;color:#000000;transform:scaleX(1.0150);'>14</span>
<span class='t' style='left:383.02px;top:514.00px;font-size:12px;font-weight:700;font-style:normal;color:#000000;transform:scaleX(1.0150);'>14</span>
<span class='t' style='left:455.98px;top:514.00px;font-size:12px;font-weight:700;font-style:normal;color:#042a04;transform:scaleX(1.0150);'>358</span>
<span class='t' style='left:525.92px;top:514.00px;font-size:12px;font-weight:700;font-style:normal;color:#3c0000;transform:scaleX(1.0150);'>27</span>
<span class='t' style='left:598.68px;top:514.00px;font-size:12px;font-weight:700;font-style:normal;color:#000000;transform:scaleX(1.0150);'>399</span>
<span class='t' style='left:695.56px;top:514.00px;font-size:12px;font-weight:400;font-style:italic;color:#000000;transform:scaleX(1.0150);'>0</span>
<span class='t' style='left:769.75px;top:514.00px;font-size:12px;font-weight:700;font-style:normal;color:#000000;transform:scaleX(1.0150);'>32.147</span>
<span class='t' style='left:853.85px;top:514.00px;font-size:12px;font-weight:700;font-style:normal;color:#000000;transform:scaleX(1.0150);'>31.357</span>
<span class='t' style='left:943.28px;top:514.00px;font-size:12px;font-weight:700;font-style:normal;color:#000000;transform:scaleX(1.0150);'>265</span>
<span class='t' style='left:42.75px;top:533.00px;font-size:12px;font-weight:700;font-style:normal;color:#000000;transform:scaleX(0.9085);'>TOTALE</span>
<span class='t' style='left:137.78px;top:533.00px;font-size:12px;font-weight:400;font-style:normal;color:#000000;transform:scaleX(1.0150);'>4.864</span>
<span class='t' style='left:219.38px;top:533.00px;font-size:12px;font-weight:400;font-style:normal;color:#000000;transform:scaleX(1.0150);'>287</span>
<span class='t' style='left:289.74px;top:533.00px;font-size:12px;font-weight:400;font-style:normal;color:#000000;transform:scaleX(1.0150);'>30.111</span>
<span class='t' style='left:371.35px;top:533.00px;font-size:12px;font-weight:400;font-style:normal;color:#000000;transform:scaleX(1.0150);'>35.262</span>
<span class='t' style='left:444.30px;top:533.00px;font-size:12px;font-weight:700;font-style:normal;color:#042a04;transform:scaleX(1.0150);'>165.837</span>
<span class='t' style='left:514.25px;top:533.00px;font-size:12px;font-weight:700;font-style:normal;color:#3c0000;transform:scaleX(1.0150);'>33.899</span>
<span class='t' style='left:587.00px;top:533.00px;font-size:12px;font-weight:700;font-style:normal;color:#000000;transform:scaleX(1.0150);'>234.998</span>
<span class='t' style='left:683.71px;top:533.00px;font-size:12px;font-weight:400;font-style:italic;color:#000000;transform:scaleX(1.0150);'>+ 197</span>
<span class='t' style='left:761.40px;top:533.00px;font-size:12px;font-weight:700;font-style:normal;color:#000000;transform:scaleX(1.0150);'>4.236.535</span>
<span class='t' style='left:845.50px;top:533.00px;font-size:12px;font-weight:700;font-style:normal;color:#000000;transform:scaleX(1.0150);'>2.627.188</span>
<span class='t' style='left:934.95px;top:533.00px;font-size:12px;font-weight:700;font-style:normal;color:#000000;transform:scaleX(1.0150);'>49.478</span>
<span class='t' style='left:120.65px;top:559.00px;font-size:12px;font-weight:700;font-style:normal;color:#000000;transform:scaleX(0.9552);'>ATTUALMENTE POSITIVI</span>
<span class='t' style='left:288.85px;top:559.00px;font-size:12px;font-weight:700;font-style:normal;color:#000000;transform:scaleX(1.0150);'>35.262</span>
<span class='t' style='left:142.42px;top:578.00px;font-size:12px;font-weight:700;font-style:normal;color:#042a04;transform:scaleX(0.9321);'>TOTALE GUARITI</span>
<span class='t' style='left:285.50px;top:578.00px;font-size:12px;font-weight:700;font-style:normal;color:#042a04;transform:scaleX(1.0150);'>165.837</span>
<span class='t' style='left:136.42px;top:597.00px;font-size:12px;font-weight:700;font-style:normal;color:#3c0000;transform:scaleX(0.9259);'>TOTALE DECEDUTI</span>
<span class='t' style='left:288.85px;top:597.00px;font-size:12px;font-weight:700;font-style:normal;color:#3c0000;transform:scaleX(1.0150);'>33.899</span>
<span class='t' style='left:155.08px;top:616.00px;font-size:12px;font-weight:700;font-style:normal;color:#000000;transform:scaleX(0.9228);'>CASI TOTALI</span>
<span class='t' style='left:285.50px;top:616.00px;font-size:12px;font-weight:700;font-style:normal;color:#000000;transform:scaleX(1.0150);'>234.998</span>
</body></html>
